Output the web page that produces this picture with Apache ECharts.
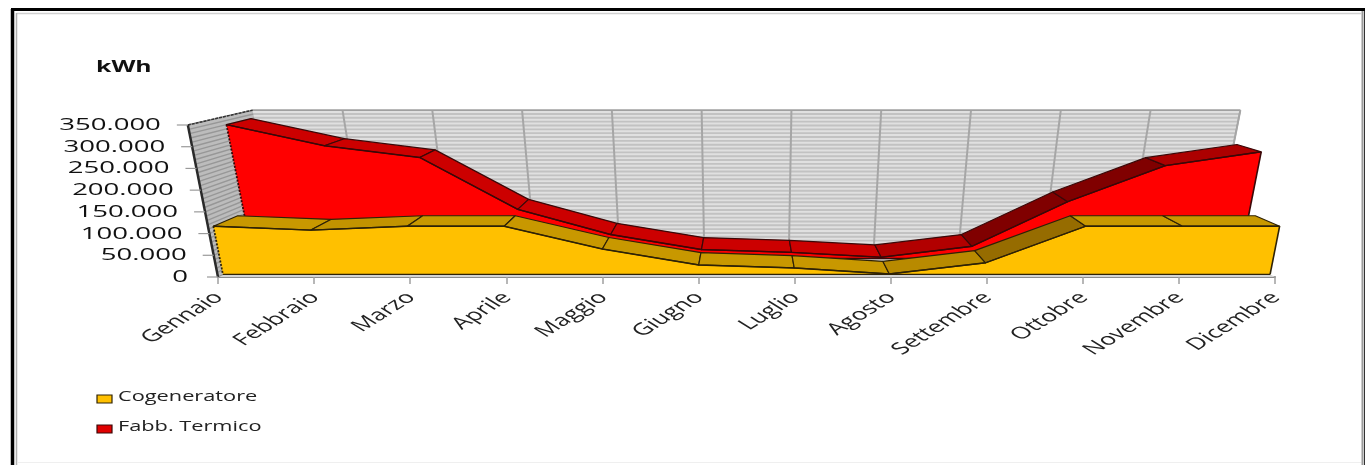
<!DOCTYPE html>
<html>
<head>
<meta charset="utf-8">
<style>html,body{margin:0;padding:0;background:#fff}#c{width:1365px;height:465px}</style>
<script src="https://cdn.jsdelivr.net/npm/echarts@6/dist/echarts.min.js"></script>
</head>
<body>
<div id="c"></div>
<script>
// Monthly energy, kWh
const months = ['Gennaio','Febbraio','Marzo','Aprile','Maggio','Giugno','Luglio','Agosto','Settembre','Ottobre','Novembre','Dicembre'];
const cogeneratore = [112000,103000,112000,112000,59000,22000,15000,1000,27000,112000,112000,112000];
const fabbTermico  = [330000,278000,249000,121000,59000,22000,15000,3000,30000,140000,229000,263000];
const valueTicks = [0,50000,100000,150000,200000,250000,300000,350000];
const tickLabels = ['0','50.000','100.000','150.000','200.000','250.000','300.000','350.000'];
const STRIPE_STEP = 10000;
const MAX_VALUE = 350000;

// Oblique projection of the pseudo-3D box
const CENTER_X = 747, SHRINK = 0.116, LEAN = 0.000375, DEPTH_RISE = 32.5;
const STRETCH = 1.6;
const FONT = '"Open Sans", sans-serif';

function project(api, i, v, d) {
  const p = api.coord([i, v]), b = api.coord([i, 0]);
  const h = b[1] - p[1];
  const k = 1 - SHRINK * d;
  return [CENTER_X + (p[0] - CENTER_X) * k * (1 + LEAN * h), b[1] - h * k - DEPTH_RISE * d];
}
function mix(a, b, t) {
  const c = a.map((x, n) => Math.round(x + (b[n] - x) * t));
  return 'rgb(' + c.join(',') + ')';
}

function renderWalls(params, api) {
  if (params.dataIndex !== 0) return null;
  const last = months.length - 1, kids = [];
  const poly = (pts, fill) => kids.push({type:'polygon', shape:{points:pts}, style:{fill:fill}});
  const line = (a, b, stroke, w, dash) => kids.push({type:'line',
    shape:{x1:a[0],y1:a[1],x2:b[0],y2:b[1]}, style:{stroke:stroke,lineWidth:w,lineDash:dash||null}});
  // back wall and floor
  poly([project(api,0,MAX_VALUE,1), project(api,last,MAX_VALUE,1), project(api,last,0,1), project(api,0,0,1)], '#e0e0e0');
  poly([project(api,0,0,0), project(api,last,0,0), project(api,last,0,1), project(api,0,0,1)], '#d4d4d4');
  // side wall
  poly([project(api,0,MAX_VALUE,0), project(api,0,MAX_VALUE,1), project(api,0,0,1), project(api,0,0,0)], '#bcbcbc');
  for (let v = 0; v <= MAX_VALUE; v += STRIPE_STEP) {
    line(project(api,0,v,1), project(api,last,v,1), '#c2c2c2', 1.9);
    line(project(api,0,v,0), project(api,0,v,1), '#979797', 1.4);
  }
  for (let i = 1; i <= last; i++) line(project(api,i,MAX_VALUE,1), project(api,i,0,1), '#a6a6a6', 2);
  line(project(api,0,MAX_VALUE,1), project(api,last,MAX_VALUE,1), '#a0a0a0', 1.5);
  line(project(api,last,MAX_VALUE,1), project(api,last,0,1), '#a6a6a6', 1.5);
  line(project(api,0,MAX_VALUE,0), project(api,0,MAX_VALUE,1), '#333', 1.5, [3,1]);
  line(project(api,0,MAX_VALUE,0), project(api,0,0,0), '#2a2a2a', 2.5);
  return {type:'group', children:kids};
}

// A ribbon with its front face and the top band running back in depth
function areaRenderer(values, d0, d1, front, mid, dark, edge) {
  return function (params, api) {
    if (params.dataIndex !== 0) return null;
    const n = values.length, kids = [];
    const top = values.map((v, i) => project(api, i, v, d0));
    const base = [project(api, n - 1, 0, d0), project(api, 0, 0, d0)];
    kids.push({type:'polygon', shape:{points:top.concat(base)}, style:{fill:front}});
    for (let i = 0; i < n - 1; i++) {
      const rise = (values[i + 1] - values[i]) / 3200;
      kids.push({type:'polygon',
        shape:{points:[top[i], top[i + 1], project(api, i + 1, values[i + 1], d1), project(api, i, values[i], d1)]},
        style:{fill:mix(mid, dark, Math.max(0, Math.min(1, rise / 25))), stroke:edge, lineWidth:1.2, lineJoin:'round'}});
    }
    kids.push({type:'polyline', shape:{points:top}, style:{fill:null, stroke:edge, lineWidth:1.4}});
    kids.push({type:'line', shape:{x1:top[n-1][0],y1:top[n-1][1],x2:base[0][0],y2:base[0][1]},
      style:{stroke:edge, lineWidth:1.6}});
    kids.push({type:'line', shape:{x1:top[0][0],y1:top[0][1],x2:base[1][0],y2:base[1][1]},
      style:{stroke:edge, lineWidth:1.8, lineDash:[2,1.5]}});
    kids.push({type:'line', shape:{x1:base[0][0],y1:base[0][1],x2:base[1][0],y2:base[1][1]},
      style:{stroke:edge, lineWidth:1.4}});
    return {type:'group', children:kids};
  };
}

// Value ticks and labels follow the slanted front edge of the side wall
function renderValueTick(params, api) {
  const i = params.dataIndex;
  const p = project(api, 0, valueTicks[i], 0);
  return {type:'group', children:[
    {type:'line', shape:{x1:p[0]-11,y1:p[1],x2:p[0],y2:p[1]}, style:{stroke:'#9a9a9a',lineWidth:1.2}},
    {type:'text', x:p[0]-27-(i === 0 ? 3 : 0), y:p[1]+0.5, scaleX:1.72,
      style:{text:tickLabels[i], align:'right', verticalAlign:'middle', fill:'#111', font:'16px '+FONT}}
  ]};
}

// Month labels at 45 degrees inside a widened group
function renderMonthLabel(params, api) {
  const i = params.dataIndex;
  const p = api.coord([i, 0]);
  return {type:'group', x:p[0]+1, y:p[1]+18, scaleX:STRETCH, children:[
    {type:'text', rotation:Math.PI/4,
      style:{text:months[i], align:'right', verticalAlign:'middle', fill:'#222', font:'16.5px '+FONT}}
  ]};
}

const chart = echarts.init(document.getElementById('c'), null, {renderer:'canvas'});
const asPoints = vals => vals.map((v, i) => [i, v]);
chart.setOption({
  animation:false,
  backgroundColor:'#fff',
  grid:{left:218, width:1057, top:125, height:152, containLabel:false},
  xAxis:{type:'category', data:months, boundaryGap:false,
    axisLine:{lineStyle:{color:'#8c8c8c',width:2}},
    axisTick:{length:7,lineStyle:{color:'#a0a0a0',width:1.5}},
    axisLabel:{show:false}, splitLine:{show:false}},
  yAxis:{type:'value', min:0, max:MAX_VALUE, interval:50000, show:false},
  series:[
    {name:'Pareti', type:'custom', renderItem:renderWalls, data:asPoints(months.map(()=>0)), silent:true, z:1},
    {name:'Fabb. Termico', type:'custom', data:asPoints(fabbTermico), z:2,
      renderItem:areaRenderer(fabbTermico,0.57,0.95,'#ff0000',[204,0,0],[128,0,0],'#3a0808')},
    {name:'Cogeneratore', type:'custom', data:asPoints(cogeneratore), z:3,
      renderItem:areaRenderer(cogeneratore,0.08,0.47,'#ffc000',[200,152,0],[150,108,0],'#2e2206')},
    {name:'Scala', type:'custom', renderItem:renderValueTick, data:valueTicks.map(v=>[0,v]), silent:true, z:4},
    {name:'Mesi', type:'custom', renderItem:renderMonthLabel, data:asPoints(months.map(()=>0)), silent:true, z:4}
  ],
  graphic:[
    // frame
    {type:'line', shape:{x1:11,y1:9.5,x2:1365,y2:9.5}, style:{stroke:'#000',lineWidth:3}, z:10, silent:true},
    {type:'line', shape:{x1:12.5,y1:9,x2:12.5,y2:465}, style:{stroke:'#000',lineWidth:3.5}, z:10, silent:true},
    {type:'line', shape:{x1:16.5,y1:13.5,x2:1361,y2:13.5}, style:{stroke:'#d0d0d0',lineWidth:1.5}, z:10, silent:true},
    {type:'line', shape:{x1:16.5,y1:13,x2:16.5,y2:465}, style:{stroke:'#b0b0b0',lineWidth:1.5}, z:10, silent:true},
    {type:'line', shape:{x1:1362.5,y1:11,x2:1362.5,y2:465}, style:{stroke:'#9a9a9a',lineWidth:2}, z:10, silent:true},
    {type:'line', shape:{x1:1364.5,y1:11,x2:1364.5,y2:465}, style:{stroke:'#333',lineWidth:1}, z:10, silent:true},
    {type:'line', shape:{x1:17,y1:462.5,x2:1361,y2:462.5}, style:{stroke:'#efefef',lineWidth:1}, z:10, silent:true},
    {type:'text', x:96, y:68, scaleX:1.6, z:10,
      style:{text:'kWh', verticalAlign:'middle', fill:'#111', font:'bold 15.5px '+FONT}},
    {type:'rect', shape:{x:97,y:395,width:15,height:8}, style:{fill:'#ffc000',stroke:'#2e2206',lineWidth:1.2}, z:10},
    {type:'rect', shape:{x:97,y:425,width:15,height:8}, style:{fill:'#e00000',stroke:'#3a0808',lineWidth:1.2}, z:10},
    {type:'text', x:118, y:397, scaleX:1.5, z:10,
      style:{text:'Cogeneratore', verticalAlign:'middle', fill:'#222', font:'14.5px '+FONT}},
    {type:'text', x:118, y:427, scaleX:1.5, z:10,
      style:{text:'Fabb. Termico', verticalAlign:'middle', fill:'#222', font:'14.5px '+FONT}}
  ]
});
</script>
</body>
</html>
